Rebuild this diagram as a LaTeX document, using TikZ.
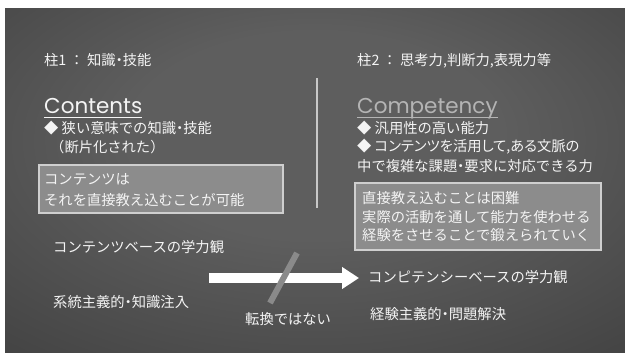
\documentclass[tikz,border=0pt]{standalone}
\usepackage{fontspec}
\usetikzlibrary{arrows.meta}
\newfontfamily\jp{Noto Sans CJK JP}
\newfontfamily\lat{Poppins}
\newcommand\narrowdot{{\addfontfeature{RawFeature=+palt}・}}
\definecolor{txt}{HTML}{F4F4F4}
\definecolor{compcol}{HTML}{B4B4B4}
\definecolor{bgin}{HTML}{5E5E5E}
\definecolor{bgout}{HTML}{2A2A2A}
\definecolor{boxfill}{HTML}{8C8C8C}
\definecolor{boxline}{HTML}{CFCFCF}
\definecolor{slashcol}{HTML}{8A8A8A}
\definecolor{divcol}{HTML}{C8C8C8}
\pgfdeclareradialshading{bgshade}{\pgfpoint{0bp}{8bp}}{color(0bp)=(bgin); color(15bp)=(bgin); color(62bp)=(bgout); color(80bp)=(bgout)}
\tikzset{
  jt/.style={anchor=base west, inner sep=0pt, text=txt, font=\jp\fontsize{14.3}{17}\selectfont},
  big/.style={anchor=base west, inner sep=0pt, font=\lat\fontsize{21.5}{24}\selectfont},
  uline/.style={line width=1.6pt},
  infobox/.style={draw=boxline, line width=1.2pt, fill=boxfill},
  divider/.style={draw=divcol, line width=1.4pt},
  bigarrow/.style={draw=white, line width=10pt, -{Triangle[length=17pt,width=21pt]}},
  slash/.style={draw=slashcol, line width=6pt},
}
\begin{document}
\begin{tikzpicture}[x=1pt,y=-1pt]
\useasboundingbox (0,0) rectangle (625,354);
\fill[white] (0,0) rectangle (625,354);
\shade[shading=bgshade] (5,8) rectangle (625,352);
% headers
\node[jt] (h1) at (44,65.5) {柱1 ： 知識\narrowdot 技能};
\node[jt] (h2) at (357,65.5) {柱2 ： 思考力,判断力,表現力等};
% titles
\node[big, text=txt] (contents) at (44,113) {Contents};
\draw[uline, txt] ([yshift=-4.5pt]contents.base west) -- ([yshift=-4.5pt]contents.base east);
\node[big, text=compcol] (competency) at (357,113) {Competency};
\draw[uline, compcol] ([yshift=-4.5pt]competency.base west) -- ([yshift=-4.5pt]competency.base east);
% left bullets
\node[jt] (l1) at (44,133.5) {◆ 狭い意味での知識\narrowdot 技能};
\node[jt] (l2) at (50,152.5) {（断片化された）};
% right bullets
\node[jt] (r1) at (357,133.5) {◆ 汎用性の高い能力};
\node[jt, font=\jp\fontsize{14.3}{17}\selectfont\addfontfeature{RawFeature=+palt}] (r2) at (357,151.5) {◆ コンテンツを活用して,ある文脈の};
\node[jt] (r3) at (357,171.5) {中で複雑な課題\narrowdot 要求に対応できる力};
% divider
\coordinate (dtop) at (317,78);
\coordinate (dbot) at (317,208);
\draw[divider] (dtop) -- (dbot);
% left box
\path[infobox] (39,165) rectangle (283,213);
\node[jt] (lb1) at (44,184.5) {コンテンツは};
\node[jt] (lb2) at (44,205.5) {それを直接教え込むことが可能};
% right box
\path[infobox] (355,183) rectangle (601,250);
\node[jt] (rb1) at (362,203) {直接教え込むことは困難};
\node[jt] (rb2) at (362,222) {実際の活動を通して能力を使わせる};
\node[jt] (rb3) at (362,240.5) {経験をさせることで鍛えられていく};
% bottom
\node[jt] (cb) at (53,252.5) {コンテンツベースの学力観};
\node[jt] (ks) at (53,307.5) {系統主義的\narrowdot 知識注入};
\node[jt] (cpb) at (368,282.5) {コンピテンシーベースの学力観};
\node[jt] (kk) at (370,319.5) {経験主義的\narrowdot 問題解決};
\node[jt] (ten) at (245,324.5) {転換ではない};
\coordinate (as) at (209,278);
\coordinate (ae) at (359,278);
\draw[bigarrow] (as) -- (ae);
\coordinate (s1) at (297,253);
\coordinate (s2) at (270,303);
\draw[slash] (s1) -- (s2);
\end{tikzpicture}
\end{document}
